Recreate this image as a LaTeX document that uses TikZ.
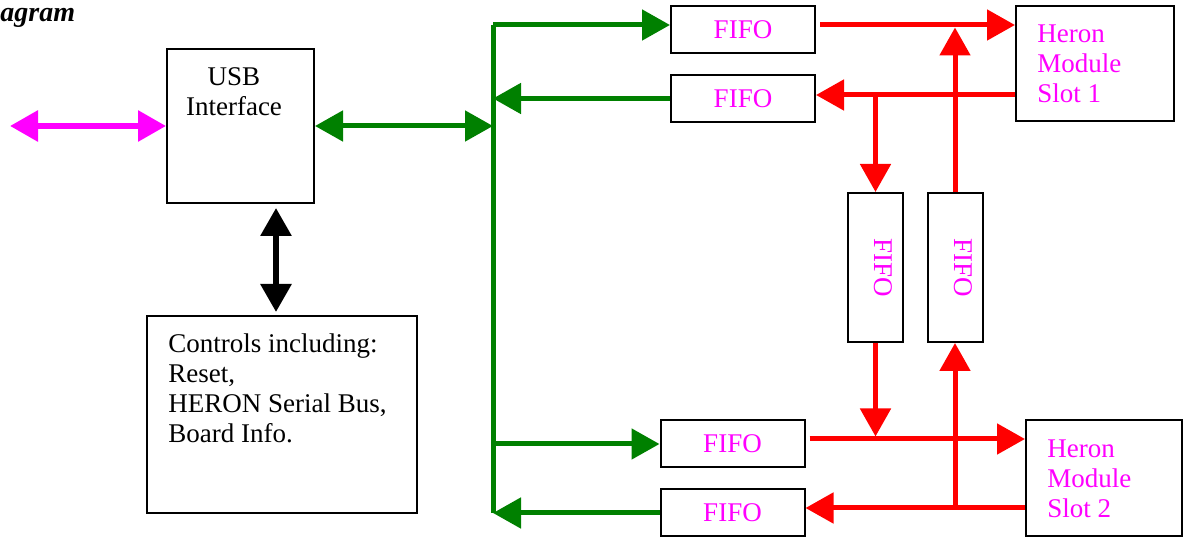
\documentclass[tikz,border=0pt]{standalone}
\usepackage{fontspec}
\setmainfont{Liberation Serif}
\usepackage{tikz}
\usetikzlibrary{arrows.meta}

\definecolor{busgreen}{RGB}{0,128,0}
\definecolor{labelpink}{RGB}{255,0,255}

\begin{document}
\begin{tikzpicture}[x=0.5pt,y=-0.5pt,
    >={Triangle[length=14pt,width=15pt]},
    box/.style={draw,line width=1pt,inner sep=0pt},
    fifo/.style={box,minimum width=72pt,minimum height=23.5pt,text=labelpink,font=\fontsize{13.5}{15}\selectfont},
    vfifo/.style={box,minimum width=27.5pt,minimum height=74.5pt},
    txt/.style={inner sep=0pt,font=\fontsize{13.5}{15}\selectfont},
    gline/.style={busgreen,line width=2.5pt},
    rline/.style={red,line width=2.5pt}]
\useasboundingbox (0,0) rectangle (1183,544);

\node[txt,anchor=base west,font=\fontsize{14}{16}\selectfont\bfseries\itshape] (title) at (0,22) {agram};

\node[box,minimum width=73.5pt,minimum height=77pt] (usb) at (240.5,126) {};
\node[txt,align=center,anchor=base] (usbt) at (234,116) {USB\\Interface};
\node[box,minimum width=135pt,minimum height=98.5pt] (ctrl) at (282,414.5) {};
\node[txt,align=left,anchor=base west] (ctrlt) at (168,443) {Controls including:\\Reset,\\HERON Serial Bus,\\Board Info.};

\node[fifo] (f1) at (743,29.5) {FIFO};
\node[fifo] (f2) at (743,98.5) {FIFO};
\node[fifo] (f3) at (732.5,444) {FIFO};
\node[fifo] (f4) at (732.5,513) {FIFO};
\node[vfifo] (f5) at (875.5,267.5) {};
\node[vfifo] (f6) at (955,267.5) {};
\node[txt,text=labelpink,rotate=-90] (f5t) at ([xshift=4pt]f5.center) {FIFO};
\node[txt,text=labelpink,rotate=-90] (f6t) at ([xshift=4pt]f6.center) {FIFO};

\node[box,minimum width=79pt,minimum height=57.5pt] (h1) at (1095,63.5) {};
\node[txt,text=labelpink,align=left,anchor=base west] (h1t) at (1037,103) {Heron\\Module\\Slot 1};
\node[box,minimum width=78pt,minimum height=58pt] (h2) at (1104,478) {};
\node[txt,text=labelpink,align=left,anchor=base west] (h2t) at (1047,518) {Heron\\Module\\Slot 2};

\coordinate (ext) at (10,126);
\draw[labelpink,line width=3pt,<->] (ext) -- (usb.west);
\draw[line width=3pt,<->,shorten <=2pt,shorten >=1.5pt] ([xshift=-3pt]ctrl.north |- usb.south) -- ([xshift=-3pt]ctrl.north);

\coordinate (bustop) at (493,25);
\coordinate (busbot) at (bustop |- f4.west);
\draw[gline] (busbot) -- (bustop);
\draw[gline,->] (bustop) -- (bustop -| f1.west);
\draw[gline,<->] (usb.east) -- (usb.east -| bustop);
\draw[gline,->] (f2.west) -- (f2.west -| bustop);
\draw[gline,->] (bustop |- f3.west) -- (f3.west);
\draw[gline,->] (f4.west) -- (busbot);

\coordinate (out1) at ([yshift=2.25pt]f1.east);
\coordinate (in1) at ([yshift=1.75pt]f2.east);
\coordinate (out2) at ([yshift=2.5pt]f3.east);
\coordinate (in2) at ([yshift=2.5pt]f4.east);
\coordinate (tapa) at (in1 -| f5.north);
\coordinate (tapb) at (in2 -| f6.south);
\draw[rline,->,shorten <=2pt] (out1) -- (out1 -| h1.west);
\draw[rline,->] (in1 -| h1.west) -- (in1);
\draw[rline,->] (tapa) -- (f5.north);
\draw[rline,->,shorten >=1.25pt] (f6.north) -- (f6.north |- out1);
\draw[rline,->,shorten <=2pt] (out2) -- (out2 -| h2.west);
\draw[rline,->,shorten >=1.25pt] (f5.south) -- (f5.south |- out2);
\draw[rline,->] (in2 -| h2.west) -- (in2);
\draw[rline,->] (tapb) -- (f6.south);
\end{tikzpicture}
\end{document}
